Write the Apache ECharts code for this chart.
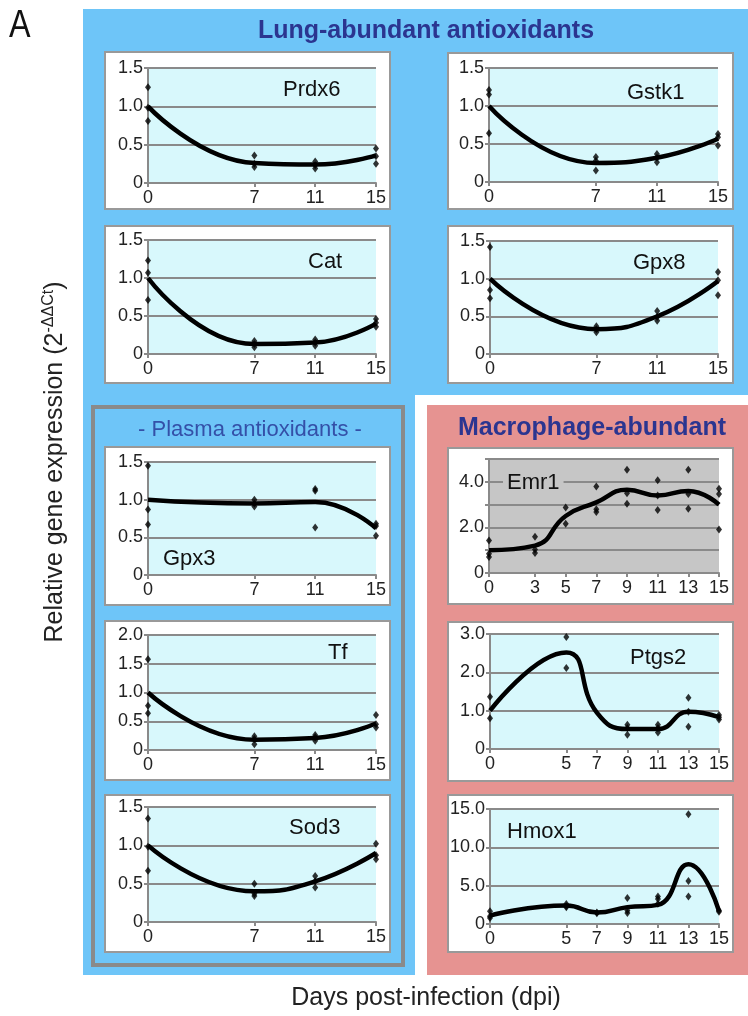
<!DOCTYPE html>
<html>
<head>
<meta charset="utf-8">
<script src="https://cdn.jsdelivr.net/npm/echarts@6/dist/echarts.min.js"></script>
<style>
html,body{margin:0;padding:0;background:#fff;}
#c{width:748px;height:1016px;}
</style>
</head>
<body>
<div id="c"></div>
<script>
// ---------- data ----------
const lungDays = [0, 7, 11, 15];
const emr1Days = [0, 3, 5, 7, 9, 11, 13, 15];
const macroDays = [0, 5, 7, 9, 11, 13, 15];

const prdx6Reps = [[1.25, 0.98, 0.81], [0.36, 0.25, 0.21], [0.28, 0.23, 0.19], [0.45, 0.35, 0.25]];
const prdx6Line = [1.0, 0.26, 0.24, 0.36];
const gstk1Reps = [[1.21, 1.15, 0.64], [0.33, 0.28, 0.15], [0.37, 0.32, 0.26], [0.63, 0.59, 0.48]];
const gstk1Line = [1.0, 0.25, 0.32, 0.57];
const catReps = [[1.23, 1.07, 0.71], [0.17, 0.13, 0.09], [0.19, 0.15, 0.11], [0.46, 0.41, 0.36]];
const catLine = [1.0, 0.13, 0.15, 0.40];
const gpx8Reps = [[1.42, 0.85, 0.74], [0.37, 0.33, 0.29], [0.57, 0.49, 0.44], [1.09, 0.98, 0.78]];
const gpx8Line = [1.0, 0.33, 0.50, 0.97];
const gpx3Reps = [[1.45, 0.87, 0.67], [1.0, 0.95, 0.91], [1.14, 1.12, 0.63], [0.68, 0.65, 0.52]];
const gpx3Line = [1.0, 0.95, 0.97, 0.62];
const tfReps = [[1.58, 0.77, 0.64], [0.24, 0.19, 0.10], [0.26, 0.22, 0.16], [0.61, 0.45, 0.39]];
const tfLine = [1.0, 0.18, 0.21, 0.46];
const sod3Reps = [[1.35, 0.98, 0.67], [0.50, 0.37, 0.34], [0.60, 0.53, 0.45], [1.02, 0.87, 0.82]];
const sod3Line = [1.0, 0.40, 0.53, 0.90];
const emr1Reps = [[1.43, 0.84, 0.70], [1.59, 1.03, 0.88], [2.87, 2.16], [3.79, 2.80, 2.68], [4.53, 3.50, 3.04], [4.07, 3.40, 2.76], [4.53, 3.46, 2.82], [3.70, 3.46, 1.91]];
const emr1Line = [1.0, 1.2, 2.5, 3.1, 3.65, 3.4, 3.6, 3.0];
const ptgs2Reps = [[1.36, 0.80], [2.92, 2.11], [], [0.63, 0.55, 0.37], [0.63, 0.55, 0.43], [1.34, 0.97, 0.58], [0.89, 0.83, 0.77]];
const ptgs2Line = [1.0, 2.52, 0.95, 0.52, 0.52, 0.97, 0.83];
const hmox1Reps = [[1.65, 1.0, 0.78], [2.6, 2.3, 2.2], [1.5, 1.4], [3.4, 1.75, 1.45], [3.6, 3.25, 2.65], [14.3, 5.6, 3.6], [1.75, 1.6]];
const hmox1Line = [1.1, 2.4, 1.5, 2.2, 2.5, 7.8, 1.7];

const geneNames = ['Prdx6', 'Gstk1', 'Cat', 'Gpx8', 'Gpx3', 'Tf', 'Sod3', 'Emr1', 'Ptgs2', 'Hmox1'];
const geneDays = [lungDays, lungDays, lungDays, lungDays, lungDays, lungDays, lungDays, emr1Days, macroDays, macroDays];
const geneReps = [prdx6Reps, gstk1Reps, catReps, gpx8Reps, gpx3Reps, tfReps, sod3Reps, emr1Reps, ptgs2Reps, hmox1Reps];
const geneLines = [prdx6Line, gstk1Line, catLine, gpx8Line, gpx3Line, tfLine, sod3Line, emr1Line, ptgs2Line, hmox1Line];
const yMax = [1.5, 1.5, 1.5, 1.5, 1.5, 2.0, 1.5, 5, 3, 15];
const yStep = [0.5, 0.5, 0.5, 0.5, 0.5, 0.5, 0.5, 1, 1, 5];

// ---------- layout (pixels) ----------
const gridBoxes = [
  [148, 68, 228, 115], [489, 68, 229, 114],
  [148, 240, 228, 114], [490, 241, 228, 113],
  [148, 462, 228, 113], [148, 635, 228, 115], [148, 807, 228, 115],
  [489, 459, 230, 114], [490, 634, 229, 115], [490, 809, 229, 115]
];
const panelBoxes = [
  [105, 52, 285, 157], [448, 53, 285, 156],
  [105, 226, 285, 157], [448, 226, 285, 157],
  [105, 447, 285, 158], [105, 621, 285, 159], [105, 795, 285, 157],
  [448, 448, 285, 156], [448, 622, 285, 159], [448, 795, 285, 157]
];
const labelPos = [
  [283, 78], [627, 81], [308, 250], [633, 251],
  [163, 547], [328, 641], [289, 816],
  [503, 471], [630, 646], [507, 820]
];

const FONT = "'Liberation Sans', Arial, Helvetica, sans-serif";
const AXIS_GRAY = '#8a8a8a';
const CYAN = '#d8f8fc';

const graphics = [
  {type: 'rect', z: -20, shape: {x: 83, y: 9, width: 665, height: 386}, style: {fill: '#6ec5f8'}},
  {type: 'rect', z: -20, shape: {x: 83, y: 395, width: 332, height: 580}, style: {fill: '#6ec5f8'}},
  {type: 'rect', z: -20, shape: {x: 427, y: 405, width: 321, height: 570}, style: {fill: '#e69391'}},
  {type: 'rect', z: -15, shape: {x: 93, y: 407, width: 310, height: 558}, style: {fill: 'none', stroke: '#8a8a8a', lineWidth: 4}},
  {type: 'text', z: 50, x: 9, y: 8, scaleX: 0.85, style: {text: 'A', font: '38px ' + FONT, fill: '#111'}},
  {type: 'text', z: 50, x: 426, y: 31, style: {text: 'Lung-abundant antioxidants', font: 'bold 25px ' + FONT, fill: '#2b3590', align: 'center', verticalAlign: 'middle'}},
  {type: 'text', z: 50, x: 250, y: 430, style: {text: '- Plasma antioxidants -', font: '22px ' + FONT, fill: '#3450a8', align: 'center', verticalAlign: 'middle'}},
  {type: 'text', z: 50, x: 592, y: 428, style: {text: 'Macrophage-abundant', font: 'bold 25px ' + FONT, fill: '#2b3590', align: 'center', verticalAlign: 'middle'}},
  {type: 'text', z: 50, x: 426, y: 998, style: {text: 'Days post-infection (dpi)', font: '25px ' + FONT, fill: '#222', align: 'center', verticalAlign: 'middle'}},
  {type: 'text', z: 50, x: 55, y: 462, rotation: Math.PI / 2, style: {
    text: 'Relative gene expression (2{sup|-ΔΔCt})', font: '25px ' + FONT, fill: '#222', align: 'center', verticalAlign: 'middle',
    rich: {sup: {fontSize: 16, fontFamily: FONT, verticalAlign: 'top', lineHeight: 28, fill: '#222'}}
  }}
];
panelBoxes.forEach(b => graphics.push({type: 'rect', z: -10, shape: {x: b[0], y: b[1], width: b[2], height: b[3]}, style: {fill: '#fff', stroke: '#999', lineWidth: 2}}));

const grids = [], xAxes = [], yAxes = [], series = [], titles = [];
geneNames.forEach((name, i) => {
  const g = gridBoxes[i];
  const isEmr = name === 'Emr1';
  grids.push({left: g[0], top: g[1], width: g[2], height: g[3], show: true, backgroundColor: isEmr ? '#c6c6c6' : CYAN, borderWidth: 0});
  xAxes.push({
    type: 'value', gridIndex: i, min: 0, max: 15,
    axisLine: {show: true, onZero: false, lineStyle: {color: AXIS_GRAY, width: 2}},
    axisTick: {show: true, customValues: geneDays[i], length: 4, lineStyle: {color: AXIS_GRAY, width: 2}},
    axisLabel: {customValues: geneDays[i], fontSize: 18, fontFamily: FONT, color: '#222', margin: 6},
    splitLine: {show: false}
  });
  yAxes.push({
    type: 'value', gridIndex: i, min: 0, max: yMax[i], interval: yStep[i],
    axisLine: {show: true, lineStyle: {color: AXIS_GRAY, width: 2}},
    axisTick: {show: true, length: 4, lineStyle: {color: AXIS_GRAY, width: 2}},
    axisLabel: {
      fontSize: 18, fontFamily: FONT, color: '#222', margin: 5,
      formatter: v => {
        if (isEmr && Math.round(v) % 2 !== 0) return '';
        return v === 0 ? '0' : v.toFixed(1);
      }
    },
    splitLine: {show: true, lineStyle: {color: AXIS_GRAY, width: 2}}
  });
  const days = geneDays[i];
  series.push({
    type: 'line', xAxisIndex: i, yAxisIndex: i, smooth: 0.5, showSymbol: false, silent: true, z: 3,
    lineStyle: {color: '#000', width: 4.5},
    data: days.map((d, j) => [d, geneLines[i][j]])
  });
  const pts = [];
  geneReps[i].forEach((arr, j) => arr.forEach(v => pts.push([days[j], v])));
  series.push({
    type: 'scatter', xAxisIndex: i, yAxisIndex: i, symbol: 'diamond', symbolSize: [6, 8], silent: true, z: 4,
    itemStyle: {color: '#000'}, data: pts
  });
  const lp = labelPos[i];
  titles.push({
    text: name, left: lp[0], top: lp[1], padding: isEmr ? [0, 4, 0, 4] : 0,
    backgroundColor: isEmr ? '#c6c6c6' : 'transparent',
    textStyle: {fontSize: 22, fontWeight: 'normal', fontFamily: FONT, color: '#111', lineHeight: 24}
  });
});

const chart = echarts.init(document.getElementById('c'), null, {renderer: 'canvas'});
chart.setOption({
  animation: false,
  backgroundColor: '#fff',
  title: titles,
  graphic: {elements: graphics},
  grid: grids,
  xAxis: xAxes,
  yAxis: yAxes,
  series: series
});
</script>
</body>
</html>
